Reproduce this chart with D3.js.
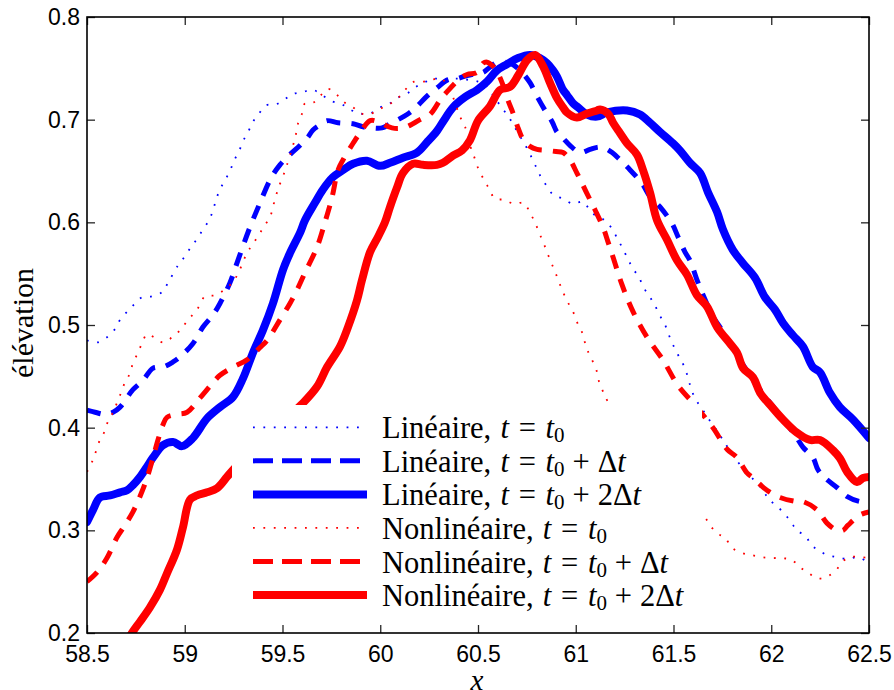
<!DOCTYPE html>
<html><head><meta charset="utf-8">
<script src="https://cdn.jsdelivr.net/npm/d3@7"></script>
<style>body{margin:0;background:#fff}</style>
</head><body>
<svg id="chart" width="894" height="690"></svg>
<script>
// ---------- data ----------
const xTicks = [58.5, 59, 59.5, 60, 60.5, 61, 61.5, 62, 62.5];
const yTicks = [0.2, 0.3, 0.4, 0.5, 0.6, 0.7, 0.8];
const xTickLabels = ["58.5","59","59.5","60","60.5","61","61.5","62","62.5"];
const yTickLabels = ["0.2","0.3","0.4","0.5","0.6","0.7","0.8"];
const yLabel = "élévation";
const xLabel = "x";
const seriesNames = ["Linéaire", "Linéaire", "Linéaire", "Nonlinéaire", "Nonlinéaire", "Nonlinéaire"];
const seriesIncrements = ["", "Δ", "2Δ", "", "Δ", "2Δ"];

const lineaireT0 = [[58.5,0.485],[58.551,0.483],[58.602,0.488],[58.643,0.496],[58.669,0.505],[58.710,0.514],[58.746,0.521],[58.781,0.527],[58.832,0.528],[58.884,0.532],[58.914,0.541],[58.965,0.558],[59.001,0.567],[59.032,0.576],[59.063,0.584],[59.093,0.593],[59.124,0.602],[59.145,0.612],[59.160,0.622],[59.180,0.632],[59.206,0.641],[59.231,0.650],[59.252,0.660],[59.277,0.669],[59.298,0.679],[59.324,0.688],[59.349,0.698],[59.380,0.706],[59.416,0.714],[59.467,0.715],[59.513,0.720],[59.554,0.725],[59.605,0.727],[59.656,0.729],[59.702,0.724],[59.753,0.718],[59.804,0.715],[59.845,0.710],[59.896,0.706],[59.948,0.706],[59.999,0.712],[60.050,0.716],[60.096,0.722],[60.142,0.726],[60.183,0.732],[60.234,0.737],[60.280,0.740],[60.336,0.739],[60.387,0.740],[60.444,0.739],[60.500,0.737],[60.541,0.733],[60.572,0.725],[60.613,0.714],[60.659,0.702],[60.705,0.687],[60.751,0.672],[60.797,0.654],[60.822,0.644],[60.853,0.635],[60.884,0.627],[60.935,0.623],[60.986,0.618],[61.037,0.620],[61.083,0.609],[61.124,0.605],[61.160,0.600],[61.191,0.592],[61.216,0.583],[61.242,0.574],[61.267,0.564],[61.293,0.555],[61.324,0.546],[61.349,0.536],[61.380,0.527],[61.405,0.519],[61.431,0.509],[61.457,0.500],[61.477,0.490],[61.497,0.481],[61.523,0.471],[61.549,0.462],[61.569,0.452],[61.584,0.442],[61.600,0.433],[61.625,0.424],[61.661,0.414],[61.692,0.405],[61.723,0.397],[61.753,0.388],[61.784,0.379],[61.840,0.364],[61.902,0.351],[61.958,0.339],[61.984,0.331],[62.019,0.325],[62.065,0.317],[62.101,0.308],[62.132,0.300],[62.178,0.294],[62.203,0.286],[62.239,0.281],[62.285,0.276],[62.336,0.274],[62.393,0.272],[62.444,0.274],[62.500,0.268]];

const lineaireT1 = [[58.5,0.417],[58.541,0.415],[58.592,0.413],[58.633,0.415],[58.669,0.420],[58.735,0.437],[58.786,0.446],[58.838,0.458],[58.889,0.459],[58.940,0.464],[58.976,0.469],[59.042,0.482],[59.093,0.498],[59.145,0.510],[59.180,0.521],[59.231,0.541],[59.272,0.563],[59.329,0.593],[59.385,0.619],[59.441,0.643],[59.487,0.656],[59.538,0.666],[59.590,0.675],[59.630,0.683],[59.656,0.690],[59.692,0.695],[59.728,0.699],[59.784,0.697],[59.861,0.696],[59.912,0.693],[59.958,0.692],[60.009,0.692],[60.050,0.696],[60.091,0.700],[60.137,0.705],[60.178,0.711],[60.239,0.723],[60.290,0.731],[60.347,0.739],[60.393,0.740],[60.444,0.743],[60.495,0.745],[60.526,0.746],[60.561,0.751],[60.602,0.756],[60.663,0.755],[60.704,0.750],[60.730,0.745],[60.766,0.736],[60.807,0.721],[60.843,0.709],[60.879,0.698],[60.904,0.688],[60.935,0.682],[60.970,0.675],[61.022,0.668],[61.073,0.671],[61.109,0.673],[61.140,0.673],[61.186,0.668],[61.226,0.661],[61.278,0.651],[61.339,0.638],[61.380,0.625],[61.431,0.615],[61.492,0.599],[61.523,0.586],[61.559,0.571],[61.584,0.563],[61.620,0.544],[61.636,0.536],[61.677,0.518],[61.702,0.508],[61.748,0.495],[61.774,0.487],[61.850,0.463],[61.942,0.437],[62.045,0.412],[62.121,0.393],[62.162,0.381],[62.213,0.371],[62.239,0.359],[62.275,0.351],[62.341,0.341],[62.387,0.333],[62.454,0.328],[62.500,0.328]];

const lineaireT2 = [[58.5,0.308],[58.531,0.320],[58.566,0.332],[58.618,0.334],[58.669,0.337],[58.705,0.339],[58.735,0.344],[58.771,0.352],[58.807,0.362],[58.838,0.371],[58.889,0.383],[58.940,0.386],[58.986,0.382],[59.042,0.390],[59.114,0.409],[59.180,0.420],[59.247,0.430],[59.298,0.448],[59.349,0.473],[59.400,0.495],[59.451,0.521],[59.503,0.554],[59.538,0.570],[59.590,0.590],[59.615,0.602],[59.666,0.619],[59.707,0.632],[59.758,0.644],[59.810,0.651],[59.861,0.657],[59.932,0.660],[59.999,0.655],[60.050,0.658],[60.116,0.663],[60.188,0.668],[60.239,0.678],[60.290,0.689],[60.321,0.698],[60.372,0.712],[60.434,0.722],[60.495,0.729],[60.546,0.737],[60.597,0.748],[60.648,0.754],[60.705,0.760],[60.766,0.763],[60.817,0.760],[60.853,0.755],[60.884,0.748],[60.904,0.742],[60.935,0.729],[60.955,0.724],[60.986,0.716],[61.012,0.712],[61.058,0.705],[61.109,0.703],[61.160,0.707],[61.263,0.709],[61.329,0.705],[61.380,0.697],[61.431,0.688],[61.497,0.677],[61.533,0.670],[61.584,0.658],[61.636,0.648],[61.677,0.629],[61.723,0.610],[61.753,0.593],[61.804,0.573],[61.856,0.560],[61.917,0.546],[61.968,0.527],[62.019,0.515],[62.060,0.502],[62.111,0.490],[62.162,0.479],[62.213,0.459],[62.249,0.454],[62.300,0.434],[62.351,0.420],[62.418,0.408],[62.500,0.390]];

const nonlineaireT0 = [[58.5,0.357],[58.531,0.369],[58.566,0.388],[58.592,0.397],[58.607,0.406],[58.633,0.415],[58.653,0.424],[58.674,0.434],[58.694,0.444],[58.720,0.453],[58.735,0.463],[58.761,0.473],[58.781,0.482],[58.807,0.491],[58.843,0.488],[58.889,0.483],[58.935,0.488],[58.976,0.495],[59.017,0.505],[59.063,0.515],[59.104,0.528],[59.155,0.529],[59.201,0.534],[59.247,0.542],[59.277,0.552],[59.318,0.570],[59.349,0.579],[59.380,0.588],[59.405,0.596],[59.436,0.605],[59.451,0.615],[59.467,0.626],[59.482,0.635],[59.503,0.645],[59.523,0.656],[59.554,0.675],[59.569,0.686],[59.579,0.696],[59.600,0.706],[59.615,0.716],[59.661,0.717],[59.697,0.724],[59.733,0.730],[59.779,0.724],[59.815,0.717],[59.861,0.712],[59.902,0.706],[59.953,0.706],[60.004,0.711],[60.055,0.716],[60.096,0.722],[60.132,0.730],[60.173,0.737],[60.219,0.737],[60.265,0.739],[60.306,0.740],[60.341,0.735],[60.372,0.722],[60.408,0.703],[60.434,0.693],[60.459,0.675],[60.480,0.664],[60.500,0.653],[60.526,0.643],[60.556,0.633],[60.587,0.623],[60.633,0.622],[60.684,0.618],[60.735,0.619],[60.766,0.609],[60.792,0.600],[60.812,0.590],[60.833,0.581],[60.853,0.571],[60.874,0.561],[60.894,0.552],[60.914,0.542],[60.935,0.532],[60.960,0.522],[60.986,0.513],[61.006,0.503],[61.032,0.493],[61.047,0.483],[61.063,0.474],[61.088,0.464],[61.109,0.454],[61.119,0.445],[61.140,0.435],[61.165,0.425],[61.252,0.400],[61.354,0.376],[61.457,0.354],[61.559,0.333],[61.656,0.314],[61.687,0.305],[61.723,0.297],[61.763,0.293],[61.799,0.283],[61.850,0.278],[61.896,0.276],[61.948,0.274],[61.999,0.273],[62.055,0.273],[62.106,0.271],[62.147,0.264],[62.193,0.258],[62.239,0.253],[62.285,0.255],[62.331,0.261],[62.362,0.269],[62.403,0.274],[62.454,0.274],[62.500,0.273]];

const nonlineaireT1 = [[58.5,0.250],[58.551,0.259],[58.602,0.273],[58.653,0.293],[58.694,0.305],[58.735,0.318],[58.771,0.333],[58.807,0.351],[58.838,0.371],[58.863,0.388],[58.889,0.403],[58.909,0.410],[58.960,0.413],[59.012,0.415],[59.078,0.429],[59.145,0.444],[59.180,0.451],[59.247,0.459],[59.318,0.466],[59.385,0.478],[59.421,0.485],[59.487,0.505],[59.538,0.521],[59.574,0.534],[59.615,0.551],[59.677,0.576],[59.717,0.600],[59.753,0.624],[59.784,0.651],[59.810,0.661],[59.861,0.677],[59.896,0.687],[59.948,0.699],[59.989,0.698],[60.060,0.692],[60.116,0.692],[60.167,0.696],[60.203,0.700],[60.254,0.705],[60.306,0.719],[60.341,0.727],[60.408,0.740],[60.444,0.744],[60.495,0.746],[60.526,0.755],[60.546,0.756],[60.577,0.752],[60.602,0.745],[60.623,0.736],[60.653,0.719],[60.674,0.709],[60.705,0.692],[60.730,0.681],[60.766,0.674],[60.802,0.671],[60.853,0.670],[60.899,0.669],[60.935,0.668],[60.970,0.661],[61.006,0.648],[61.032,0.638],[61.073,0.622],[61.099,0.612],[61.140,0.595],[61.165,0.581],[61.191,0.566],[61.237,0.539],[61.293,0.513],[61.365,0.488],[61.446,0.466],[61.523,0.441],[61.600,0.424],[61.702,0.400],[61.774,0.379],[61.824,0.371],[61.876,0.356],[61.907,0.351],[61.978,0.339],[62.045,0.332],[62.132,0.328],[62.162,0.328],[62.234,0.320],[62.285,0.307],[62.336,0.300],[62.367,0.300],[62.393,0.305],[62.454,0.315],[62.500,0.318]];

const nonlineaireT2 = [[58.694,0.188],[58.730,0.200],[58.771,0.211],[58.822,0.225],[58.873,0.242],[58.909,0.258],[58.960,0.281],[58.991,0.303],[59.027,0.330],[59.063,0.334],[59.114,0.337],[59.165,0.341],[59.216,0.352],[59.257,0.361],[59.385,0.385],[59.513,0.408],[59.605,0.424],[59.677,0.440],[59.728,0.459],[59.794,0.479],[59.835,0.498],[59.881,0.524],[59.907,0.544],[59.948,0.571],[59.989,0.586],[60.024,0.600],[60.050,0.615],[60.086,0.634],[60.116,0.648],[60.168,0.657],[60.219,0.656],[60.290,0.656],[60.321,0.658],[60.372,0.665],[60.418,0.670],[60.459,0.680],[60.500,0.699],[60.561,0.713],[60.613,0.729],[60.664,0.732],[60.705,0.743],[60.751,0.758],[60.792,0.763],[60.833,0.752],[60.868,0.736],[60.904,0.721],[60.935,0.712],[60.955,0.707],[61.006,0.702],[61.058,0.706],[61.109,0.709],[61.124,0.710],[61.165,0.706],[61.191,0.697],[61.226,0.687],[61.262,0.677],[61.313,0.666],[61.344,0.651],[61.380,0.629],[61.416,0.602],[61.467,0.583],[61.518,0.563],[61.569,0.549],[61.620,0.529],[61.671,0.518],[61.723,0.498],[61.789,0.482],[61.825,0.473],[61.856,0.458],[61.907,0.449],[61.943,0.434],[62.004,0.420],[62.060,0.408],[62.132,0.395],[62.198,0.388],[62.249,0.388],[62.316,0.378],[62.352,0.370],[62.388,0.357],[62.439,0.347],[62.470,0.351],[62.500,0.352]];

// ---------- layout ----------
const m = {left: 87, right: 869, top: 17, bottom: 633};
const svg = d3.select("#chart");
const x = d3.scaleLinear().domain([58.5, 62.5]).range([m.left, m.right]);
const y = d3.scaleLinear().domain([0.2, 0.8]).range([m.bottom, m.top]);

const blue = "#0000ff", red = "#ff0000";
const styles = [
  {data: lineaireT0, color: blue, width: 1.8, dash: "1.8,8.6"},
  {data: lineaireT1, color: blue, width: 5, dash: "14,11"},
  {data: lineaireT2, color: blue, width: 8, dash: null},
  {data: nonlineaireT0, color: red, width: 1.8, dash: "1.8,8.6"},
  {data: nonlineaireT1, color: red, width: 5, dash: "14,11"},
  {data: nonlineaireT2, color: red, width: 8, dash: null}
];
const legendDash = ["1.8,8.6", "20,9", null, "1.8,8.6", "20,9", null];

svg.append("defs").append("clipPath").attr("id", "clip")
  .append("rect").attr("x", m.left).attr("y", m.top)
  .attr("width", m.right - m.left).attr("height", m.bottom - m.top);

const line = d3.line().x(d => x(d[0])).y(d => y(d[1])).curve(d3.curveCatmullRom.alpha(0.5));

const gLines = svg.append("g").attr("clip-path", "url(#clip)");
styles.forEach(s => {
  gLines.append("path").attr("d", line(s.data))
    .attr("fill", "none").attr("stroke", s.color).attr("stroke-width", s.width)
    .attr("stroke-linejoin", "round").attr("stroke-linecap", s.dash ? "butt" : "round")
    .attr("stroke-dasharray", s.dash);
});

// ---------- axes ----------
const tickFont = "'Liberation Sans', Arial, Helvetica, sans-serif";
const axisColor = "#262626";
function styleAxis(g) {
  g.select(".domain").remove();
  g.selectAll(".tick line").attr("stroke", axisColor).attr("stroke-width", 1.3);
  g.selectAll(".tick text").attr("font-family", tickFont).attr("font-size", 23).attr("fill", "#000");
}
svg.append("g").attr("transform", `translate(0,${m.bottom})`)
  .call(d3.axisBottom(x).tickValues(xTicks).tickFormat((d, i) => xTickLabels[i]).tickSize(-8).tickPadding(13))
  .call(styleAxis);
svg.append("g").attr("transform", `translate(0,${m.top})`)
  .call(d3.axisTop(x).tickValues(xTicks).tickFormat("").tickSize(-8))
  .call(styleAxis);
svg.append("g").attr("transform", `translate(${m.left},0)`)
  .call(d3.axisLeft(y).tickValues(yTicks).tickFormat((d, i) => yTickLabels[i]).tickSize(-8).tickPadding(7))
  .call(styleAxis);
svg.append("g").attr("transform", `translate(${m.right},0)`)
  .call(d3.axisRight(y).tickValues(yTicks).tickFormat("").tickSize(-8))
  .call(styleAxis);

svg.append("rect").attr("x", m.left).attr("y", m.top)
  .attr("width", m.right - m.left).attr("height", m.bottom - m.top)
  .attr("fill", "none").attr("stroke", "#000").attr("stroke-width", 1.6);

// ---------- axis labels ----------
const serif = "'Liberation Serif', 'Times New Roman', serif";
svg.append("text").attr("transform", "translate(33,323) rotate(-90)")
  .attr("text-anchor", "middle").attr("font-family", serif).attr("font-size", 30).text(yLabel);
svg.append("text").attr("x", (m.left + m.right) / 2 - 1).attr("y", 690)
  .attr("text-anchor", "middle").attr("font-family", serif).attr("font-style", "italic")
  .attr("font-size", 29).text(xLabel);

// ---------- legend ----------
const lg = svg.append("g");
lg.append("rect").attr("x", 232).attr("y", 405).attr("width", 470).attr("height", 207).attr("fill", "#fff");
const rowY0 = 427.3, rowStep = 33.55;
styles.forEach((s, i) => {
  const ry = rowY0 + i * rowStep;
  lg.append("line").attr("x1", 253).attr("x2", 367).attr("y1", ry).attr("y2", ry)
    .attr("stroke", s.color).attr("stroke-width", s.width).attr("stroke-dasharray", legendDash[i]);
  const t = lg.append("text").attr("x", 382).attr("y", ry + 11)
    .attr("font-family", serif).attr("font-size", 30.5).attr("fill", "#000");
  t.append("tspan").text(seriesNames[i] + ",");
  t.append("tspan").attr("dx", "0.3em").attr("font-style", "italic").text("t");
  t.append("tspan").attr("dx", "0.32em").text("=");
  t.append("tspan").attr("dx", "0.32em").attr("font-style", "italic").text("t");
  t.append("tspan").attr("font-size", 21).attr("dy", 4).text("0");
  if (seriesIncrements[i]) {
    t.append("tspan").attr("dy", -4).attr("dx", "0.26em").text("+");
    t.append("tspan").attr("dx", "0.26em").text(seriesIncrements[i]);
    t.append("tspan").attr("font-style", "italic").text("t");
  }
});
</script>
</body></html>
